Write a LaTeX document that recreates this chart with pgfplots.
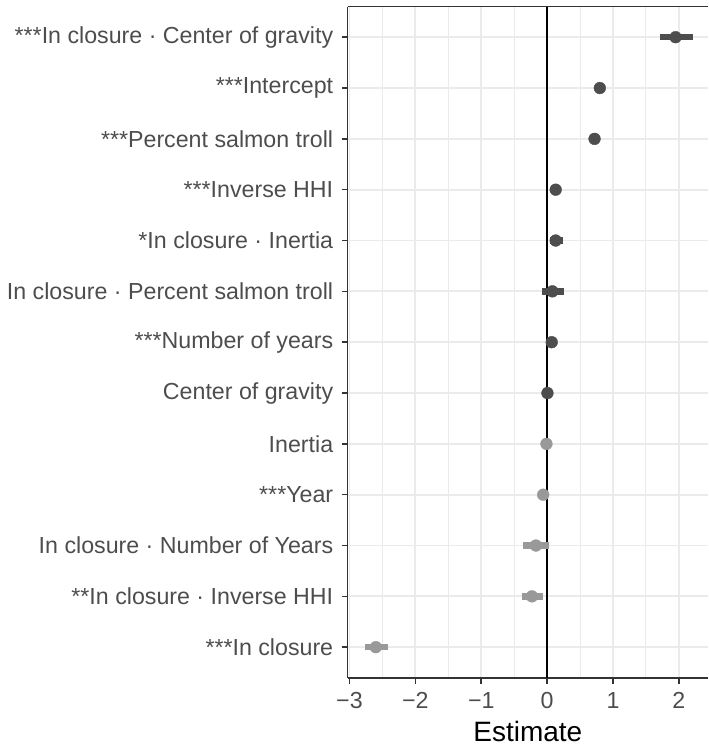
\documentclass[border=0pt]{standalone}
\usepackage{pgfplots}
\pgfplotsset{compat=1.18}
\usepackage{pgfplotstable}
\usepackage{fontspec}
\setmainfont{Liberation Sans}

\definecolor{ptdark}{HTML}{4D4D4D}
\definecolor{ptlight}{HTML}{999999}
\definecolor{gridc}{HTML}{EBEBEB}
\definecolor{axisc}{HTML}{333333}
\definecolor{labc}{HTML}{4D4D4D}

% row, estimate, lower and upper half-widths of the interval
\pgfplotstableread{
row est em ep
13 1.95 0.24 0.27
12 0.80 0.04 0.04
11 0.72 0.03 0.03
10 0.13 0.03 0.03
9 0.13 0.09 0.11
8 0.08 0.16 0.18
7 0.07 0.02 0.02
6 0.005 0.025 0.025
}\posdata
\pgfplotstableread{
row est em ep
5 -0.01 0.02 0.02
4 -0.06 0.02 0.02
3 -0.17 0.19 0.20
2 -0.23 0.15 0.17
1 -2.60 0.17 0.19
}\negdata

\begin{document}
\begin{tikzpicture}
\begin{axis}[
  at={(0,0)}, anchor=south west,
  scale only axis, width=360.3bp, height=671bp,
  xmin=-3.027, xmax=2.442, ymin=0.4, ymax=13.6,
  xtick={-3,-2,-1,0,1,2},
  xticklabels={−3,−2,−1,0,1,2},
  minor xtick={-2.5,-1.5,-0.5,0.5,1.5},
  ytick={1,...,13},
  yticklabels={
    ***In closure,
    **In closure · Inverse HHI,
    In closure · Number of Years,
    ***Year,
    Inertia,
    Center of gravity,
    ***Number of years,
    In closure · Percent salmon troll,
    *In closure · Inertia,
    ***Inverse HHI,
    ***Percent salmon troll,
    ***Intercept,
    ***In closure · Center of gravity},
  xmajorgrids, ymajorgrids, xminorgrids,
  major grid style={gridc, line width=1.8bp},
  minor grid style={gridc, line width=1.1bp},
  axis lines=left,
  axis line style={axisc, line width=1.6bp, -},
  tick align=outside,
  major tick length=6bp, minor tick length=0bp,
  tick style={axisc, line width=1.6bp},
  ticklabel style={font=\fontsize{23.2bp}{28bp}\selectfont, text=labc},
  xticklabel style={yshift=-5bp},
  yticklabel style={xshift=-5bp},
  xlabel={Estimate},
  xlabel style={font=\fontsize{28bp}{33bp}\selectfont, text=black, yshift=-6bp},
  clip mode=individual,
]
\addplot[black, line width=2bp] coordinates {(0,0.4) (0,13.6)};
\addplot[only marks, mark=*, mark size=5.9bp, ptdark,
  mark options={draw=none, fill=ptdark},
  error bars/.cd, x dir=both, x explicit, error mark=none,
  error bar style={line width=6.5bp, ptdark}]
  table[x=est, y=row, x error minus=em, x error plus=ep]{\posdata};
\addplot[only marks, mark=*, mark size=5.9bp, ptlight,
  mark options={draw=none, fill=ptlight},
  error bars/.cd, x dir=both, x explicit, error mark=none,
  error bar style={line width=6.5bp, ptlight}]
  table[x=est, y=row, x error minus=em, x error plus=ep]{\negdata};
\draw[axisc, line width=1.6bp] (rel axis cs:0,1) -- (rel axis cs:1,1);
\end{axis}
\path (-347.7bp,-71.3bp) (360.3bp,677.7bp);
\end{tikzpicture}
\end{document}
